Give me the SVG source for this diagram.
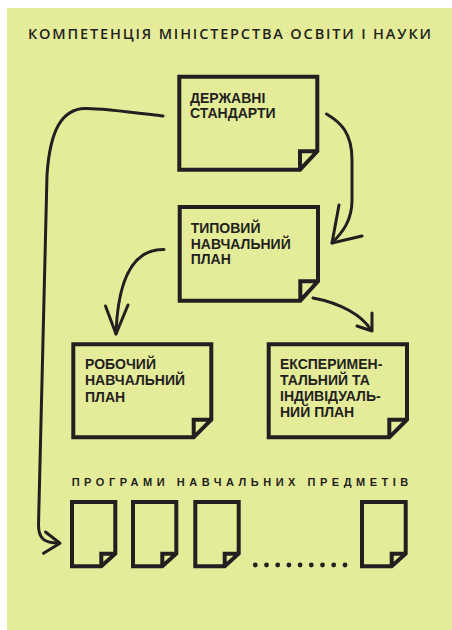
<svg xmlns="http://www.w3.org/2000/svg" width="452" height="630" viewBox="0 0 452 630">
<style>
.bg{fill:#e5ec99}
.doc{fill:none;stroke:#231f20;stroke-width:4;stroke-linejoin:miter}
.lbl{font-family:"Liberation Sans",Arial,sans-serif;font-weight:bold;font-size:14px;fill:#231f20}
.ttl{font-family:"Open Sans","Liberation Sans",sans-serif;font-weight:600;font-size:14.5px;fill:#231f20}
.sec{font-family:"Liberation Sans",Arial,sans-serif;font-weight:bold;font-size:11px;fill:#231f20}
.con{fill:none;stroke:#231f20;stroke-width:3;stroke-linecap:round;stroke-linejoin:round}
.dot{fill:#231f20}
</style>
<rect class="bg" x="7" y="8" width="445" height="622"/>
<text class="ttl" x="28" y="38.5" textLength="403" lengthAdjust="spacing">КОМПЕТЕНЦІЯ МІНІСТЕРСТВА ОСВІТИ І НАУКИ</text>

<g id="connectors">
<path class="con" d="M163,116 C130,112 100,108 85,108.5 C62,109 50,130 47,175 L38.5,525 C38.5,540 46,543 58,543"/>
<path class="con" d="M45.5,532 L60,543.3 L43.5,553.3"/>
<path class="con" d="M326.5,114 C340,122 352,132 352,160 L352,200 C352,220 343,232 332,243"/>
<path class="con" d="M339,205 L332,243 L362,236"/>
<path class="con" d="M164,249.5 C135,249 118,275 116,334"/>
<path class="con" d="M105.5,306 L116,334 L128,305"/>
<path class="con" d="M313,298 C340,303 362,315 371,330"/>
<path class="con" d="M372,313 L372,331 L357,326"/>
</g>

<g id="node-derzhavni">
<path class="doc" d="M179.3,76.7 H317.3 V151.3 L300,169.7 H179.3 Z M300,169.7 V151.3 H317.3"/>
<text class="lbl" x="190" y="102.7">ДЕРЖАВНІ</text>
<text class="lbl" x="190" y="117.7">СТАНДАРТИ</text>
</g>

<g id="node-typovyi">
<path class="doc" d="M179.7,207 H318 V281.3 L300.3,300.7 H179.7 Z M300.3,300.7 V281.3 H318"/>
<text class="lbl" x="190.7" y="232.7">ТИПОВИЙ</text>
<text class="lbl" x="190.7" y="248.7">НАВЧАЛЬНИЙ</text>
<text class="lbl" x="190.7" y="264.3">ПЛАН</text>
</g>

<g id="node-robochyi">
<path class="doc" d="M73.3,344.3 H211.3 V419.7 L193.7,437.3 H73.3 Z M193.7,437.3 V419.7 H211.3"/>
<text class="lbl" x="85" y="369.3">РОБОЧИЙ</text>
<text class="lbl" x="85" y="385.3">НАВЧАЛЬНИЙ</text>
<text class="lbl" x="85" y="401.5">ПЛАН</text>
</g>

<g id="node-eksperymentalnyi">
<path class="doc" d="M268.7,344.3 H407 V419.7 L389.3,437.3 H268.7 Z M389.3,437.3 V419.7 H407"/>
<text class="lbl" x="280" y="369.3">ЕКСПЕРИМЕН-</text>
<text class="lbl" x="280" y="385.3">ТАЛЬНИЙ ТА</text>
<text class="lbl" x="280" y="401.3">ІНДИВІДУАЛЬ-</text>
<text class="lbl" x="280" y="417">НИЙ ПЛАН</text>
</g>

<g id="node-programy">
<text class="sec" x="71.7" y="485.5" textLength="336.6" lengthAdjust="spacing">ПРОГРАМИ НАВЧАЛЬНИХ ПРЕДМЕТІВ</text>
<path class="doc" d="M72,502 H115.3 V553.7 L101.3,566.3 H72 Z M101.3,566.3 V553.7 H115.3"/>
<path class="doc" d="M133,502 H176.3 V553.7 L162.3,566.3 H133 Z M162.3,566.3 V553.7 H176.3"/>
<path class="doc" d="M195.3,502 H238.7 V553.7 L224.7,566.3 H195.3 Z M224.7,566.3 V553.7 H238.7"/>
<path class="doc" d="M362,502 H405.7 V553.7 L391.7,566.3 H362 Z M391.7,566.3 V553.7 H405.7"/>
<circle class="dot" cx="255.3" cy="565" r="2.4"/>
<circle class="dot" cx="266.5" cy="565" r="2.4"/>
<circle class="dot" cx="277.7" cy="565" r="2.4"/>
<circle class="dot" cx="288.9" cy="565" r="2.4"/>
<circle class="dot" cx="300.1" cy="565" r="2.4"/>
<circle class="dot" cx="311.3" cy="565" r="2.4"/>
<circle class="dot" cx="322.5" cy="565" r="2.4"/>
<circle class="dot" cx="333.7" cy="565" r="2.4"/>
<circle class="dot" cx="345" cy="565" r="2.4"/>
</g>
</svg>
